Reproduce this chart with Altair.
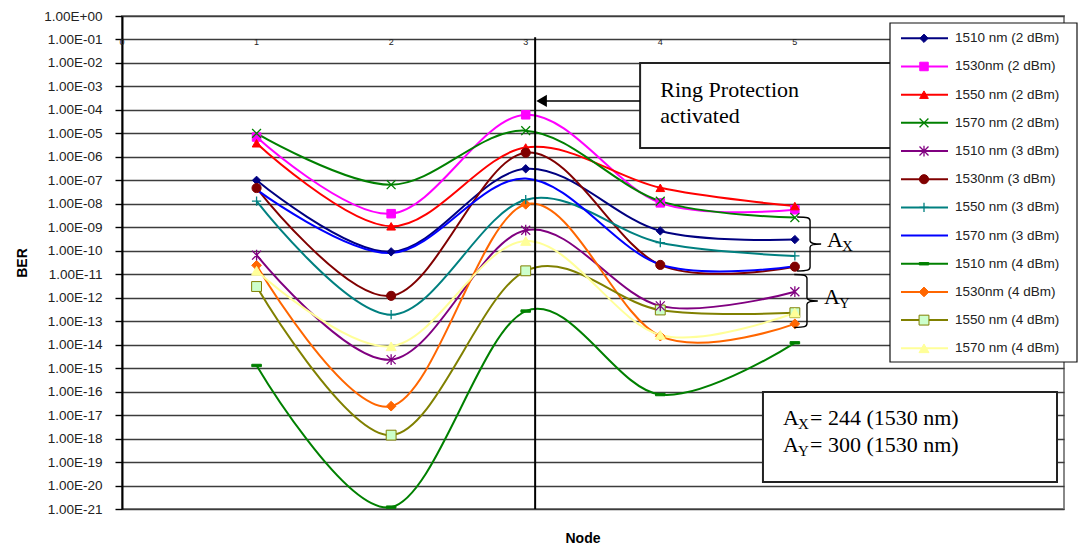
import altair as alt
import pandas as pd

# ---------------- data ----------------
nodes = [1, 2, 3, 4, 5]
series = ["1510 nm (2 dBm)", "1530nm (2 dBm)", "1550 nm (2 dBm)", "1570 nm (2 dBm)",
          "1510 nm (3 dBm)", "1530nm (3 dBm)", "1550 nm (3 dBm)", "1570 nm (3 dBm)",
          "1510 nm (4 dBm)", "1530nm (4 dBm)", "1550 nm (4 dBm)", "1570 nm (4 dBm)"]

ber_1510_2 = [1.0e-7, 9.0e-11, 3.1e-7, 7.0e-10, 3.0e-10]
ber_1530_2 = [7.0e-6, 3.8e-9, 6.2e-5, 1.1e-8, 5.6e-9]
ber_1550_2 = [3.8e-6, 1.1e-9, 2.5e-6, 4.8e-8, 8.0e-9]
ber_1570_2 = [1.0e-5, 6.5e-8, 1.3e-5, 1.3e-8, 2.6e-9]
ber_1510_3 = [6.5e-11, 2.3e-15, 7.5e-10, 4.5e-13, 1.8e-12]
ber_1530_3 = [4.7e-8, 1.2e-12, 1.5e-6, 2.5e-11, 2.1e-11]
ber_1550_3 = [1.3e-8, 1.9e-13, 1.5e-8, 2.2e-10, 6.0e-11]
ber_1570_3 = [4.0e-8, 8.0e-11, 1.2e-7, 2.6e-11, 2.2e-11]
ber_1510_4 = [1.3e-15, 1.2e-21, 2.7e-13, 7.5e-17, 1.2e-14]
ber_1530_4 = [2.4e-11, 2.4e-17, 9.5e-9, 2.3e-14, 7.7e-14]
ber_1550_4 = [3.0e-12, 1.4e-18, 1.4e-11, 3.0e-13, 2.3e-13]
ber_1570_4 = [1.4e-11, 8.5e-15, 2.6e-10, 2.6e-14, 2.3e-13]

ber_all = [ber_1510_2, ber_1530_2, ber_1550_2, ber_1570_2,
           ber_1510_3, ber_1530_3, ber_1550_3, ber_1570_3,
           ber_1510_4, ber_1530_4, ber_1550_4, ber_1570_4]

x_tick_values = [0, 1, 2, 3, 4, 5, 6, 7]
x_tick_labels = ["0", "1", "2", "3", "4", "5", "6"]
y_decades = [10.0 ** (-k) for k in range(22)]

# ---------------- styles ----------------
line_colors = ["#000080", "#FF00FF", "#FF0000", "#008000",
               "#800080", "#800000", "#008080", "#0000FF",
               "#008000", "#FF6600", "#808000", "#FFFF99"]
fill_colors = ["#000080", "#FF00FF", "#FF0000", "#008000",
               "#800080", "#800000", "#008080", "#0000FF",
               "#008000", "#FF6600", "#CCFFCC", "#FFFF99"]
X_PATH = "M-1,-1L1,1M-1,1L1,-1"
STAR_PATH = "M-1,-1L1,1M-1,1L1,-1M0,-1.2L0,1.2"
PLUS_PATH = "M0,-1L0,1M-1,0L1,0"
DASH_PATH = "M-1,-0.25L1,-0.25L1,0.25L-1,0.25Z"
marker_shapes = ["diamond", "square", "triangle-up", X_PATH,
                 STAR_PATH, "circle", PLUS_PATH, "circle",
                 DASH_PATH, "diamond", "square", "triangle-up"]
marker_sizes = [70, 100, 90, 80, 90, 100, 100, 10, 64, 70, 90, 100]
filled_series = [series[i] for i in (0, 1, 2, 5, 8, 9, 10, 11)]
stroked_series = [series[i] for i in (3, 4, 6)]

FONT = "Liberation Sans"
SERIF = "Liberation Serif"

rows = []
for name, vals in zip(series, ber_all):
    for n, v in zip(nodes, vals):
        rows.append({"series": name, "node": n, "ber": v})
df = pd.DataFrame(rows)
df_filled = df[df["series"].isin(filled_series)]
df_stroked = df[df["series"].isin(stroked_series)]

xs = alt.Scale(domain=[0, 7], nice=False, zero=False)
ys = alt.Scale(type="log", domain=[1e-21, 1], nice=False)
stroke_sc = alt.Scale(domain=series, range=line_colors)
fill_sc = alt.Scale(domain=series, range=fill_colors)
shape_sc = alt.Scale(domain=series, range=marker_shapes)
size_sc = alt.Scale(domain=series, range=marker_sizes)

label_expr = ("'1.00E' + (datum.value >= 1 ? '+' : '-') + "
              "(abs(round(log(datum.value)/LN10)) < 10 ? '0' : '') + "
              "abs(round(log(datum.value)/LN10))")

one = pd.DataFrame({"k": [0]})


def X(d):
    return alt.X(datum=d, scale=xs, axis=None)


def Y(d):
    return alt.Y(datum=d, scale=ys, axis=None)


lines = alt.Chart(df).mark_line(interpolate="cardinal", strokeWidth=2).encode(
    x=alt.X("node:Q", scale=xs,
            axis=alt.Axis(orient="top", values=x_tick_values, labels=False, domain=False,
                          ticks=True, tickSize=4, tickColor="black", tickWidth=1,
                          grid=False, title=None)),
    y=alt.Y("ber:Q", scale=ys,
            axis=alt.Axis(values=y_decades, labelExpr=label_expr, grid=True,
                          gridColor="#3c3c3c", gridWidth=1.4, domain=True,
                          domainColor="black", domainWidth=2, ticks=True, tickSize=7,
                          tickColor="black", tickWidth=1.4, labelPadding=13,
                          labelFont=FONT, labelFontSize=13.5, labelColor="#222",
                          title="BER", titleFont=FONT, titleFontSize=14,
                          titleFontWeight="bold", titleColor="black", titlePadding=14)),
    stroke=alt.Stroke("series:N", scale=stroke_sc, legend=None),
)

pts_filled = alt.Chart(df_filled).mark_point(filled=True, opacity=1, strokeWidth=1).encode(
    x=alt.X("node:Q", scale=xs, axis=None),
    y=alt.Y("ber:Q", scale=ys, axis=None),
    shape=alt.Shape("series:N", scale=shape_sc, legend=None),
    fill=alt.Fill("series:N", scale=fill_sc, legend=None),
    stroke=alt.Stroke("series:N", scale=stroke_sc, legend=None),
    size=alt.Size("series:N", scale=size_sc, legend=None),
)

pts_stroked = alt.Chart(df_stroked).mark_point(filled=False, opacity=1, strokeWidth=1.3).encode(
    x=alt.X("node:Q", scale=xs, axis=None),
    y=alt.Y("ber:Q", scale=ys, axis=None),
    shape=alt.Shape("series:N", scale=shape_sc, legend=None),
    stroke=alt.Stroke("series:N", scale=stroke_sc, legend=None),
    size=alt.Size("series:N", scale=size_sc, legend=None),
)

tick_df = pd.DataFrame({"node": x_tick_values[:len(x_tick_labels)], "label": x_tick_labels})
x_labels = alt.Chart(tick_df).mark_text(font=FONT, fontSize=9, color="#222",
                                        baseline="top", dy=-1).encode(
    x=alt.X("node:Q", scale=xs, axis=None),
    y=Y(0.1),
    text="label:N",
)

# ---- annotations ----
PROT_X = 3.07
vline = alt.Chart(one).mark_rule(color="black", strokeWidth=2).encode(
    x=X(PROT_X), y=Y(10 ** -0.9), y2=alt.Y2(datum=1e-21))

ring_box = alt.Chart(one).mark_rect(fill="white", stroke="#222", strokeWidth=2).encode(
    x=X(3.85), x2=alt.X2(datum=5.8), y=Y(10 ** -2.0), y2=alt.Y2(datum=10 ** -5.62))
ring_t1 = alt.Chart(one).mark_text(text="Ring Protection", align="left", baseline="alphabetic",
                                   font=SERIF, fontSize=22, color="black").encode(
    x=X(4.0), y=Y(10 ** -3.45))
ring_t2 = alt.Chart(one).mark_text(text="activated", align="left", baseline="alphabetic",
                                   font=SERIF, fontSize=22, color="black").encode(
    x=X(4.0), y=Y(10 ** -4.56))
arrow_line = alt.Chart(one).mark_rule(color="black", strokeWidth=1.5).encode(
    x=X(3.12), x2=alt.X2(datum=3.85), y=Y(10 ** -3.62))
arrow_head = alt.Chart(one).mark_point(shape="triangle-left", filled=True, color="black",
                                       opacity=1, size=150).encode(
    x=X(3.118), y=Y(10 ** -3.62))

BRACE = ("M-0.48,-1 C-0.1,-1 0,-0.97 0,-0.85 L0,-0.12 C0,-0.03 0.15,0 0.41,0 "
         "C0.15,0 0,0.03 0,0.12 L0,0.85 C0,0.97 -0.1,1 -0.48,1")
brace_x = alt.Chart(one).mark_point(shape=BRACE, filled=False, stroke="black", strokeWidth=1.4,
                                    opacity=1, size=2916).encode(
    x=X(5.113), y=Y(10 ** -9.71))
brace_y = alt.Chart(one).mark_point(shape=BRACE, filled=False, stroke="black", strokeWidth=1.4,
                                    opacity=1, size=2809).encode(
    x=X(5.09), y=Y(10 ** -12.14))


def sub_label(xd, yd, sub, rest=None, size=22):
    layers = [
        alt.Chart(one).mark_text(text="A", align="left", baseline="alphabetic", font=SERIF,
                                 fontSize=size, color="black").encode(x=X(xd), y=Y(yd)),
        alt.Chart(one).mark_text(text=sub, align="left", baseline="alphabetic", font=SERIF,
                                 fontSize=size * 0.68, color="black", dx=15, dy=4).encode(
            x=X(xd), y=Y(yd)),
    ]
    if rest:
        layers.append(alt.Chart(one).mark_text(text=rest, align="left", baseline="alphabetic",
                                               font=SERIF, fontSize=size, color="black",
                                               dx=27).encode(x=X(xd), y=Y(yd)))
    return layers


ax_label = sub_label(5.239, 10 ** -9.84, "X")
ay_label = sub_label(5.217, 10 ** -12.27, "Y")

ax_box = alt.Chart(one).mark_rect(fill="white", stroke="#222", strokeWidth=2).encode(
    x=X(4.763), x2=alt.X2(datum=6.948), y=Y(10 ** -16.02), y2=alt.Y2(datum=10 ** -19.85))
ax_line = sub_label(4.912, 10 ** -17.42, "X", "= 244 (1530 nm)")
ay_line = sub_label(4.912, 10 ** -18.57, "Y", "= 300 (1530 nm)")

# ---- legend (own y scale) ----
leg_df = pd.DataFrame({"series": series})
leg_filled = leg_df[leg_df["series"].isin(filled_series)]
leg_stroked = leg_df[leg_df["series"].isin(stroked_series)]
ly = alt.Scale(type="point", domain=series, range=[22.3, 332.3], padding=0)

leg_box = alt.Chart(one).mark_rect(fill="white", stroke="#111", strokeWidth=1.2).encode(
    x=alt.value(768), x2=alt.value(955), y=alt.value(7), y2=alt.value(346))
leg_lines = alt.Chart(leg_df).mark_rule(strokeWidth=2).encode(
    x=alt.value(779), x2=alt.value(826),
    y=alt.Y("series:N", scale=ly, axis=None),
    stroke=alt.Stroke("series:N", scale=stroke_sc, legend=None))
leg_pf = alt.Chart(leg_filled).mark_point(filled=True, opacity=1, strokeWidth=1).encode(
    x=alt.value(802),
    y=alt.Y("series:N", scale=ly, axis=None),
    shape=alt.Shape("series:N", scale=shape_sc, legend=None),
    fill=alt.Fill("series:N", scale=fill_sc, legend=None),
    stroke=alt.Stroke("series:N", scale=stroke_sc, legend=None),
    size=alt.Size("series:N", scale=size_sc, legend=None))
leg_ps = alt.Chart(leg_stroked).mark_point(filled=False, opacity=1, strokeWidth=1.3).encode(
    x=alt.value(802),
    y=alt.Y("series:N", scale=ly, axis=None),
    shape=alt.Shape("series:N", scale=shape_sc, legend=None),
    stroke=alt.Stroke("series:N", scale=stroke_sc, legend=None),
    size=alt.Size("series:N", scale=size_sc, legend=None))
leg_text = alt.Chart(leg_df).mark_text(align="left", baseline="middle", font=FONT,
                                       fontSize=13.5, color="#222").encode(
    x=alt.value(833),
    y=alt.Y("series:N", scale=ly, axis=None),
    text="series:N")

chart = alt.layer(
    lines, pts_filled, pts_stroked, x_labels, vline,
    ring_box, ring_t1, ring_t2, arrow_line, arrow_head,
    brace_x, brace_y, *ax_label, *ay_label,
    ax_box, *ax_line, *ay_line,
    leg_box, leg_lines, leg_pf, leg_ps, leg_text,
).resolve_scale(y="independent").properties(
    width=942, height=493,
    autosize=alt.AutoSizeParams(type="none"),
    padding={"left": 122, "top": 16, "right": 14, "bottom": 41},
    background="white",
    title=alt.TitleParams("Node", orient="bottom", anchor="middle", frame="group",
                          offset=16, dx=-10, fontSize=14, fontWeight="bold",
                          font=FONT, color="black"),
).configure_view(stroke="#888", strokeWidth=2)

chart.save("out.html", embed_options={"renderer": "svg", "actions": False})
